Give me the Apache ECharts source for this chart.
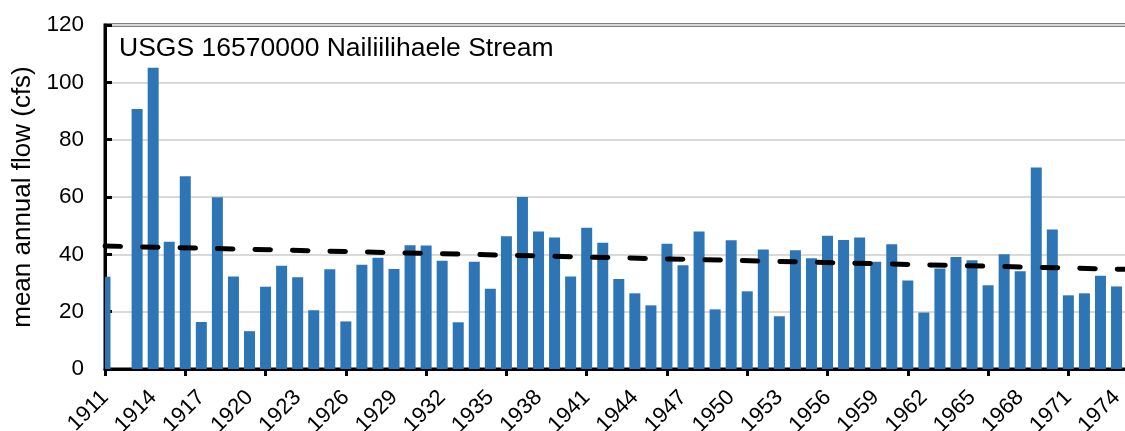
<!DOCTYPE html>
<html>
<head>
<meta charset="utf-8">
<title>USGS 16570000 Nailiilihaele Stream</title>
<script src="https://cdn.jsdelivr.net/npm/echarts@6/dist/echarts.min.js"></script>
<style>
  html, body { margin: 0; padding: 0; background: #fff; }
  #main { width: 1125px; height: 431px; }
</style>
</head>
<body>
<div id="main"></div>
<script type="text/javascript">
  // water years 1911..1974, 1912 has no record
  var years = [
    1911, 1912, 1913, 1914, 1915, 1916, 1917, 1918, 1919, 1920,
    1921, 1922, 1923, 1924, 1925, 1926, 1927, 1928, 1929, 1930,
    1931, 1932, 1933, 1934, 1935, 1936, 1937, 1938, 1939, 1940,
    1941, 1942, 1943, 1944, 1945, 1946, 1947, 1948, 1949, 1950,
    1951, 1952, 1953, 1954, 1955, 1956, 1957, 1958, 1959, 1960,
    1961, 1962, 1963, 1964, 1965, 1966, 1967, 1968, 1969, 1970,
    1971, 1972, 1973, 1974
  ];
  var flow = [
    32.2, null, 90.7, 105.1, 44.4, 67.2, 16.4, 59.9, 32.3, 13.2,
    28.7, 36.0, 32.0, 20.5, 34.8, 16.6, 36.4, 38.8, 34.9, 43.2,
    43.1, 37.8, 16.3, 37.4, 28.0, 46.3, 60.0, 48.0, 45.9, 32.3,
    49.3, 44.0, 31.4, 26.4, 22.2, 43.7, 36.2, 48.0, 20.8, 44.9,
    27.1, 41.7, 18.4, 41.4, 38.6, 46.5, 45.0, 45.9, 37.4, 43.5,
    30.9, 19.7, 35.1, 39.1, 37.9, 29.2, 40.0, 34.1, 70.3, 48.7,
    25.7, 26.4, 32.5, 28.8
  ];
  // linear trend as drawn (ends)
  var trendYears = [1911, 1975];
  var trendFlow = [42.9, 34.7];

  var yTicks = [0, 20, 40, 60, 80, 100, 120];
  var stationName = 'USGS 16570000 Nailiilihaele Stream';
  var yName = 'mean annual flow (cfs)';

  var xMin = 1911, xMax = 1975.15;
  var barColor = '#2e75b6';
  var barPx = 11;

  var barData = [];
  for (var i = 0; i < years.length; i++) {
    if (flow[i] != null) barData.push([years[i], flow[i]]);
  }
  var trendData = [];
  for (var j = 0; j < trendYears.length; j++) {
    trendData.push([trendYears[j], trendFlow[j]]);
  }

  var font = 'Liberation Sans, Arial, sans-serif';

  // extra bottom axis that only draws the 5-year tick marks
  function tickAxis(inside) {
    return {
      type: 'value',
      position: 'bottom',
      min: 0,
      max: xMax - xMin,
      interval: 5,
      axisLine: { show: false },
      axisLabel: { show: false },
      splitLine: { show: false },
      axisTick: { show: true, inside: inside, length: 7, lineStyle: { color: '#000', width: 3 } }
    };
  }

  // bars drawn as a custom series so the first one is cut at the y axis
  function renderBar(params, api) {
    var top = api.coord([api.value(0), api.value(1)]);
    var base = api.coord([api.value(0), 0]);
    var cs = params.coordSys;
    var shape = echarts.graphic.clipRectByRect({
      x: top[0] - barPx / 2,
      y: top[1],
      width: barPx,
      height: base[1] - top[1]
    }, { x: cs.x, y: cs.y, width: cs.width, height: cs.height });
    return shape && { type: 'rect', shape: shape, style: { fill: barColor } };
  }

  var chart = echarts.init(document.getElementById('main'));
  chart.setOption({
    animation: false,
    backgroundColor: '#fff',
    textStyle: { fontFamily: font, color: '#000' },
    title: {
      text: stationName,
      left: 119,
      top: 35,
      padding: 0,
      textStyle: { fontFamily: font, fontSize: 26.5, fontWeight: 'normal', color: '#000' }
    },
    grid: {
      left: 105,
      top: 25,
      width: 1030,
      height: 344,
      show: true,
      borderColor: '#000',
      borderWidth: 3,
      containLabel: false,
      outerBoundsMode: 'none'
    },
    xAxis: [{
      type: 'value',
      position: 'bottom',
      min: xMin,
      max: xMax,
      interval: 3,
      axisLine: { show: true, onZero: false, lineStyle: { color: '#000', width: 3 } },
      axisTick: { show: false },
      splitLine: { show: false },
      axisLabel: {
        rotate: 45,
        margin: 25,
        fontSize: 22,
        color: '#000',
        fontFamily: font,
        showMaxLabel: false,
        formatter: function (v) { return String(v); }
      }
    }, tickAxis(false), tickAxis(true)],
    yAxis: {
      type: 'value',
      min: yTicks[0],
      max: yTicks[yTicks.length - 1],
      interval: 20,
      name: yName,
      nameLocation: 'middle',
      nameGap: 68,
      nameTextStyle: { fontFamily: font, fontSize: 26, color: '#000' },
      axisLine: { show: true, lineStyle: { color: '#000', width: 3 } },
      axisTick: { show: true, inside: true, length: 7, lineStyle: { color: '#000', width: 3 } },
      axisLabel: { margin: 21, fontSize: 22.5, color: '#000', fontFamily: font },
      splitLine: { show: true, lineStyle: { color: '#d9d9d9', width: 2 } }
    },
    series: [{
      type: 'custom',
      xAxisIndex: 0,
      data: barData,
      renderItem: renderBar,
      encode: { x: 0, y: 1 },
      z: 2
    }, {
      type: 'line',
      xAxisIndex: 0,
      data: trendData,
      symbol: 'none',
      clip: true,
      lineStyle: { color: '#000', width: 5, type: [15.5, 22], cap: 'round' },
      z: 3
    }]
  });
</script>
</body>
</html>
